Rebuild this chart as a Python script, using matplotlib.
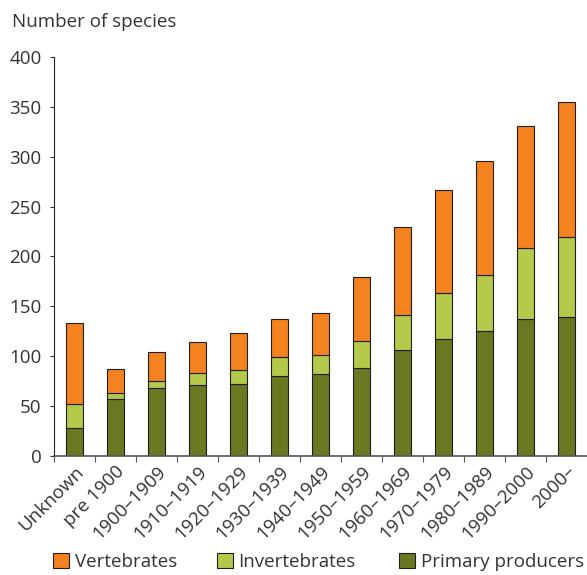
import matplotlib.pyplot as plt
import numpy as np

plt.rcParams['font.family'] = ['Open Sans', 'DejaVu Sans']

periods = ["Unknown", "pre 1900", "1900–1909", "1910–1919", "1920–1929",
           "1930–1939", "1940–1949", "1950–1959", "1960–1969", "1970–1979",
           "1980–1989", "1990–2000", "2000–"]
primary = [28, 57, 68, 71, 72, 80, 82, 88, 106, 117, 125, 137, 139]
invert_cum = [52, 63, 75, 83, 86, 99, 101, 115, 141, 163, 181, 208, 219]
total = [133, 87, 104, 114, 123, 137, 143, 179, 229, 267, 296, 331, 355]

primary = np.array(primary)
invertebrates = np.array(invert_cum) - primary
vertebrates = np.array(total) - np.array(invert_cum)

c_vert = "#F4821F"
c_inv = "#B4C94A"
c_prim = "#6A7822"
edge = "#1e1e1e"
txt = "#333333"

fig = plt.figure(figsize=(5.87, 5.75), dpi=100)
ax = fig.add_axes([54 / 587, 119.3 / 575, 533 / 587, 398.7 / 575])

x = np.arange(len(periods))
w = 0.41
b1 = ax.bar(x, primary, w, color=c_prim, edgecolor=edge, linewidth=0.8)
b2 = ax.bar(x, invertebrates, w, bottom=primary, color=c_inv, edgecolor=edge, linewidth=0.8)
b3 = ax.bar(x, vertebrates, w, bottom=primary + invertebrates, color=c_vert, edgecolor=edge,
            linewidth=0.8)

ax.set_xlim(-0.5, len(periods) - 0.5)
ax.set_ylim(0, 400)
ax.set_yticks(range(0, 401, 50))
ax.tick_params(axis="y", labelsize=13.5, length=3, width=0.8, colors=txt, pad=6)

ax.set_xticks(x)
ax.set_xticklabels(periods, rotation=45, ha="right", rotation_mode="anchor", fontsize=13.5,
                   color=txt)
ax.tick_params(axis="x", length=0, pad=5)
ax.set_xticks(np.arange(len(periods)) - 0.5, minor=True)
ax.tick_params(axis="x", which="minor", length=4, width=0.8, color="#555555")

for s in ["top", "right"]:
    ax.spines[s].set_visible(False)
ax.spines["left"].set_color("#222222")
ax.spines["bottom"].set_color("#555555")
ax.spines["left"].set_linewidth(0.8)
ax.spines["bottom"].set_linewidth(1.2)

fig.text(12 / 587, 1 - 22 / 575, "Number of species", fontsize=13.5, color=txt,
         va="center", ha="left")

# legend entries placed one by one to match uneven spacing
for h, lab, xpos in [(b3, "Vertebrates", 53), (b2, "Invertebrates", 217),
                     (b1, "Primary producers", 399)]:
    fig.legend([h], [lab], loc="center left", bbox_to_anchor=(xpos / 587, 1 - 562 / 575),
               frameon=False, fontsize=13.5, handlelength=0.85, handleheight=0.9,
               handletextpad=0.3, borderpad=0, borderaxespad=0, labelcolor=txt)

fig.savefig("out.png", dpi=100)
